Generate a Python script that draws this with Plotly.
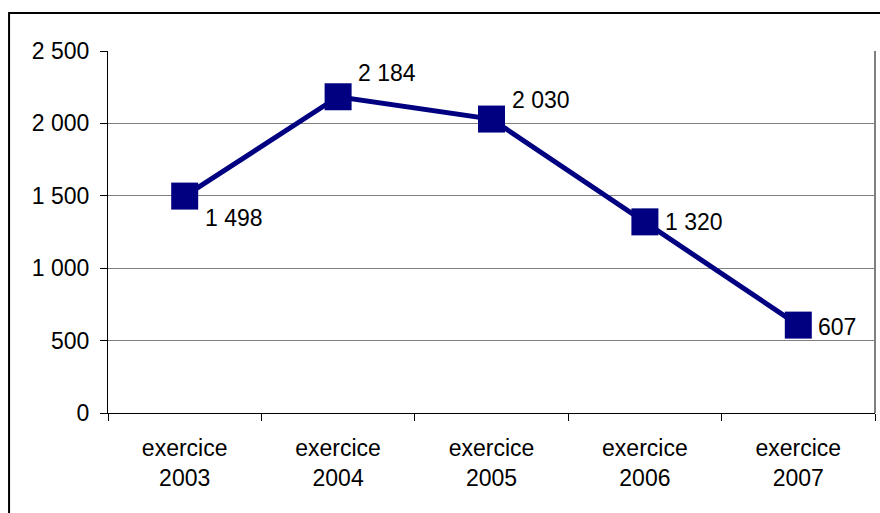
import plotly.graph_objects as go

categories = ["exercice<br>2003", "exercice<br>2004", "exercice<br>2005", "exercice<br>2006", "exercice<br>2007"]
values = [1498, 2184, 2030, 1320, 607]
labels = ["1 498", "2 184", "2 030", "1 320", "607"]
label_dy = [-22, 24, 19, 0, -2]

NAVY = "#000080"
FONT = "Liberation Sans, Arial, sans-serif"
FS = 23

fig = go.Figure()
fig.add_trace(go.Scatter(
    x=categories, y=values, mode="lines+markers",
    line=dict(color=NAVY, width=5),
    marker=dict(symbol="square", size=27, color=NAVY),
    hoverinfo="skip", showlegend=False,
))

for c, v, t, dy in zip(categories, values, labels, label_dy):
    fig.add_annotation(x=c, y=v, text=t, showarrow=False, xanchor="left",
                       yanchor="middle", xshift=18, yshift=dy,
                       font=dict(family=FONT, size=FS, color="black"))

# right border of plot area (gray)
fig.add_shape(type="line", xref="paper", yref="paper", x0=1, x1=1, y0=0, y1=1,
              line=dict(color="#808080", width=2))
# outer chart border
fig.add_shape(type="rect", xref="paper", yref="paper", x0=-0.129, x1=1.03,
              y0=-0.35, y1=1.105, line=dict(color="black", width=2),
              fillcolor="rgba(0,0,0,0)")

fig.update_layout(
    width=880, height=513,
    margin=dict(l=108, r=5, t=51, b=100),
    paper_bgcolor="white", plot_bgcolor="white",
    separators=", ",
    font=dict(family=FONT, size=FS, color="black"),
    xaxis=dict(type="category", tickson="boundaries", ticks="outside", ticklen=7,
               tickcolor="black", showgrid=False, showline=True, linecolor="black",
               linewidth=1, tickfont=dict(size=FS), range=[-0.5, 4.5],
               ticklabelstandoff=14),
    yaxis=dict(range=[0, 2500], dtick=500, tickformat=",d", ticks="outside",
               ticklen=7, tickcolor="black", showgrid=True, gridcolor="#808080",
               gridwidth=1, showline=True, linecolor="black", linewidth=1,
               zeroline=False, tickfont=dict(size=FS), ticklabelstandoff=6),
)

fig.write_html("out.html")
